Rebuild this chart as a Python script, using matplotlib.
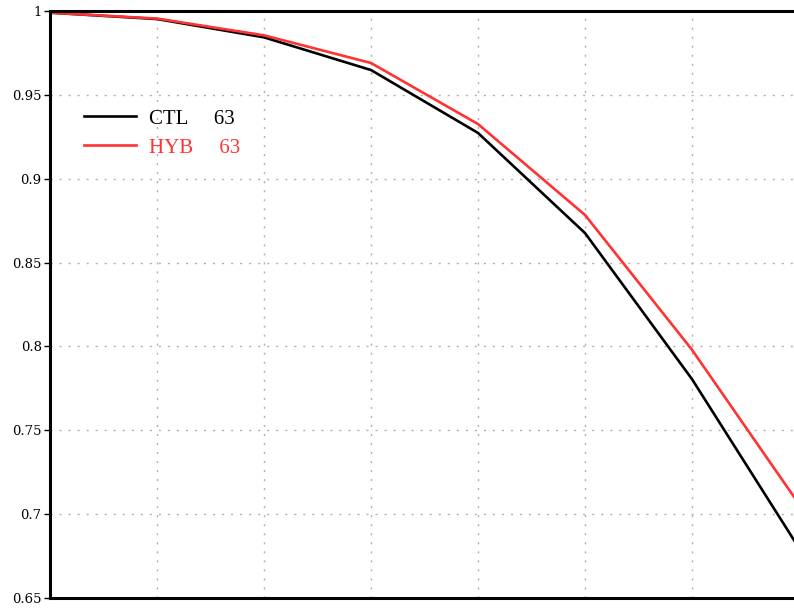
import matplotlib

matplotlib.use("Agg")
import matplotlib.pyplot as plt

# forecast day vs. anomaly correlation for the two runs
days = [0, 1, 2, 3, 4, 5, 6, 7]
ctl = [0.999, 0.9952, 0.9843, 0.9648, 0.9273, 0.8676, 0.7805, 0.6798]
hyb = [0.999, 0.9955, 0.9855, 0.9690, 0.9326, 0.8784, 0.7980, 0.7060]
labels = ["CTL     63", "HYB     63"]
yticks = [0.65, 0.7, 0.75, 0.8, 0.85, 0.9, 0.95, 1.0]
ytick_labels = ["0.65", "0.7", "0.75", "0.8", "0.85", "0.9", "0.95", "1"]

fig = plt.figure(figsize=(7.94, 6.11), dpi=100)
ax = fig.add_axes([50 / 794, 1 - 598 / 611, 749 / 794, 587 / 611])

ax.plot(days, ctl, color="black", lw=1.9, label=labels[0])
ax.plot(days, hyb, color="#ff3333", lw=1.9, label=labels[1])

ax.set_xlim(0, 7)
ax.set_ylim(0.65, 1.0)
ax.set_xticks(days)
ax.set_xticklabels([])
ax.set_yticks(yticks)
ax.set_yticklabels(ytick_labels)
ax.tick_params(axis="x", length=0)
ax.tick_params(axis="y", length=4, width=1, pad=2, labelsize=9.5)
for lab in ax.get_yticklabels():
    lab.set_family("DejaVu Serif")

ax.grid(True, color="#b0b0b0", ls=(0, (1.5, 5)), lw=1)
for side in ("left", "bottom", "top"):
    ax.spines[side].set_linewidth(2.2)
ax.spines["right"].set_visible(False)

ax.legend(loc="upper left", bbox_to_anchor=(0.021, 0.865), frameon=False,
          handlelength=2.45, handletextpad=0.65, labelspacing=0.45,
          prop={"family": "Liberation Serif", "size": 15},
          labelcolor="linecolor")

fig.savefig("out.png", dpi=100)
